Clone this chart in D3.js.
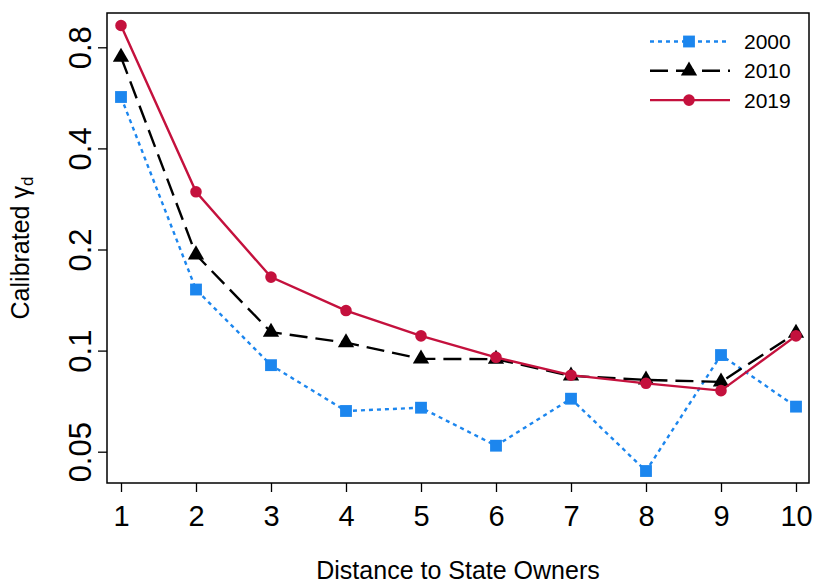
<!DOCTYPE html>
<meta charset="utf-8">
<style>
  body { margin: 0; background: #fff; }
  svg text { font-family: "Liberation Sans", Arial, sans-serif; fill: #000; }
</style>
<body>
<script src="https://d3js.org/d3.v7.min.js"></script>
<script>
  // data
  var distances = [1, 2, 3, 4, 5, 6, 7, 8, 9, 10];
  var years = ["2000", "2010", "2019"];
  var gamma2000 = [0.569, 0.152, 0.0905, 0.0661, 0.0676, 0.0521, 0.0719, 0.0438, 0.097, 0.0681];
  var gamma2010 = [0.748, 0.193, 0.1135, 0.1056, 0.0945, 0.0943, 0.0841, 0.0818, 0.0807, 0.1127];
  var gamma2019 = [0.929, 0.297, 0.1655, 0.1316, 0.1106, 0.0955, 0.0845, 0.0799, 0.076, 0.1106];
  var yTicks = [0.05, 0.1, 0.2, 0.4, 0.8];

  var width = 816, height = 583;
  var box = {left: 107, right: 809, top: 13, bottom: 483};

  var svg = d3.select("body").append("svg")
    .attr("width", width)
    .attr("height", height);

  var x = d3.scaleLinear().domain([1, 10]).range([121, 796]);
  var y = d3.scaleLog().base(2).domain([0.05, 0.8]).range([451.7, 47.3]);

  var series = [
    {name: years[0], values: gamma2000, color: "#1C86EE", dash: "4,4", shape: d3.symbolSquare, size: 140},
    {name: years[1], values: gamma2010, color: "#000000", dash: "18,8", shape: d3.symbolTriangle, size: 115},
    {name: years[2], values: gamma2019, color: "#C4113D", dash: null, shape: d3.symbolCircle, size: 105}
  ];

  var line = d3.line()
    .x(function(d, i) { return x(distances[i]); })
    .y(function(d) { return y(d); });

  // plot box
  svg.append("rect")
    .attr("x", box.left).attr("y", box.top)
    .attr("width", box.right - box.left).attr("height", box.bottom - box.top)
    .style("fill", "none").style("stroke", "#000").style("stroke-width", 1.5);

  // x axis
  var xAxis = svg.append("g")
    .attr("transform", "translate(0," + box.bottom + ")")
    .call(d3.axisBottom(x).tickValues(distances).tickSize(9).tickSizeOuter(0).tickFormat(d3.format("d")));
  xAxis.select(".domain").remove();
  xAxis.selectAll(".tick line").style("stroke", "#000").style("stroke-width", 1.3);
  xAxis.selectAll(".tick text")
    .attr("y", 43).attr("dy", null)
    .style("font-size", "29px");

  // y axis, labels rotated like R's default
  var yAxis = svg.append("g")
    .attr("transform", "translate(" + box.left + ",0)")
    .call(d3.axisLeft(y).tickValues(yTicks).tickSize(9).tickSizeOuter(0).tickFormat(function(d) { return String(d); }));
  yAxis.select(".domain").remove();
  yAxis.selectAll(".tick line").style("stroke", "#000").style("stroke-width", 1.3);
  yAxis.selectAll(".tick text")
    .attr("x", null).attr("dy", null)
    .attr("text-anchor", "middle")
    .attr("transform", "translate(-16,0) rotate(-90)")
    .style("font-size", "31px");

  // axis titles
  svg.append("text")
    .attr("x", (box.left + box.right) / 2).attr("y", 579)
    .attr("text-anchor", "middle")
    .style("font-size", "25px")
    .text("Distance to State Owners");

  var yTitle = svg.append("text")
    .attr("transform", "translate(29," + (box.top + box.bottom) / 2 + ") rotate(-90)")
    .attr("text-anchor", "middle")
    .style("font-size", "25px");
  yTitle.append("tspan").text("Calibrated \u03b3");
  yTitle.append("tspan").attr("dy", 4).style("font-size", "17px").text("d");

  // lines and markers
  series.forEach(function(s) {
    svg.append("path")
      .datum(s.values)
      .attr("d", line)
      .style("fill", "none")
      .style("stroke", s.color)
      .style("stroke-width", 2.4)
      .style("stroke-dasharray", s.dash);

    svg.selectAll(null)
      .data(s.values)
      .enter().append("path")
      .attr("d", d3.symbol().type(s.shape).size(s.size))
      .attr("transform", function(d, i) { return "translate(" + x(distances[i]) + "," + y(d) + ")"; })
      .style("fill", s.color);
  });

  // legend
  var legend = svg.append("g");
  series.forEach(function(s, i) {
    var ly = 41.5 + i * 29.3;
    legend.append("line")
      .attr("x1", 650).attr("x2", 730).attr("y1", ly).attr("y2", ly)
      .style("stroke", s.color).style("stroke-width", 2.4)
      .style("stroke-dasharray", s.dash);
    legend.append("path")
      .attr("d", d3.symbol().type(s.shape).size(s.size))
      .attr("transform", "translate(689," + ly + ")")
      .style("fill", s.color);
    legend.append("text")
      .attr("x", 744).attr("y", ly + 7.5)
      .style("font-size", "21px")
      .text(s.name);
  });
</script>
</body>
